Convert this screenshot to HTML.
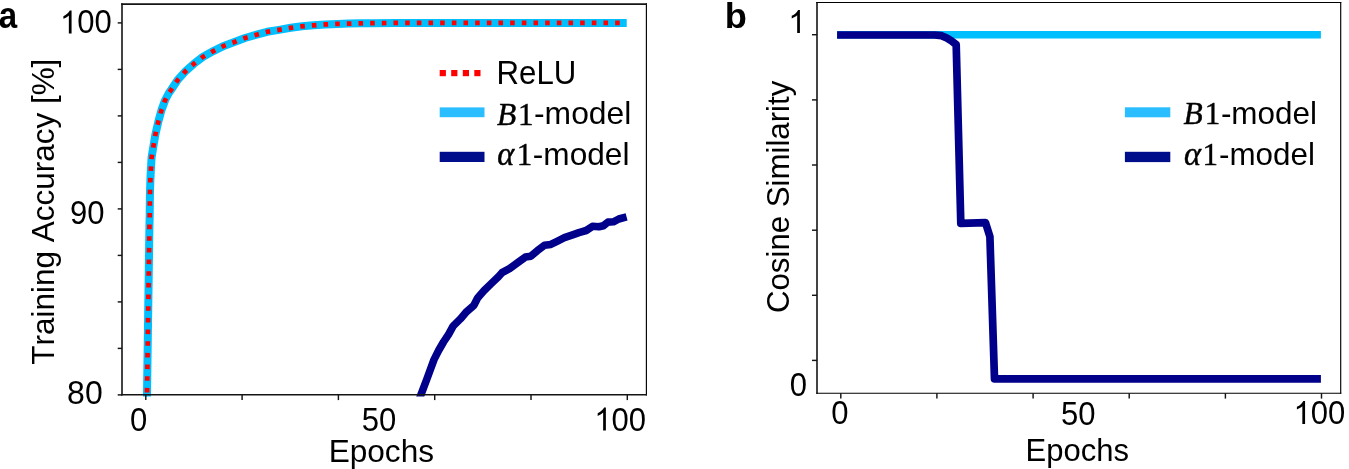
<!DOCTYPE html>
<html><head><meta charset="utf-8"><title>figure</title>
<style>
html,body{margin:0;padding:0;background:#fff;}
body{width:1349px;height:469px;overflow:hidden;font-family:"Liberation Sans", sans-serif;}
svg{display:block;will-change:transform;}
svg text{font-family:"Liberation Sans", sans-serif;fill:#000;font-kerning:none;}
</style></head><body>
<svg width="1349" height="469" viewBox="0 0 1349 469">
<rect width="1349" height="469" fill="#ffffff"/>
<clipPath id="ca"><rect x="122.0" y="4.1" width="524.4" height="392.5"/></clipPath>
<g clip-path="url(#ca)">
<polyline points="146.6,420.0 147.0,395.0 149.4,227.6 149.7,215.6 149.8,203.7 150.0,191.7 150.4,179.7 150.9,169.3 151.6,157.3 153.3,146.8 155.4,134.3 158.4,121.4 161.5,110.0 165.2,100.0 168.9,93.0 171.0,90.0 177.5,80.2 185.8,70.9 194.0,63.7 202.7,57.0 213.3,51.1 223.8,45.9 234.4,42.0 245.0,38.0 256.7,34.7 267.2,31.8 279.0,29.9 290.7,27.8 302.0,26.3 313.4,25.3 325.4,24.4 337.4,23.9 348.7,23.6 360.0,23.3 372.0,23.2 396.0,22.9 453.5,22.9 626.7,22.9" fill="none" stroke="#00BFFF" stroke-width="8.0" stroke-linejoin="round"/>
<polyline points="146.6,420.0 147.0,395.0 149.4,227.6 149.7,215.6 149.8,203.7 150.0,191.7 150.4,179.7 150.9,169.3 151.6,157.3 153.3,146.8 155.4,134.3 158.4,121.4 161.5,110.0 165.2,100.0 168.9,93.0 171.0,90.0 177.5,80.2 185.8,70.9 194.0,63.7 202.7,57.0 213.3,51.1 223.8,45.9 234.4,42.0 245.0,38.0 256.7,34.7 267.2,31.8 279.0,29.9 290.7,27.8 302.0,26.3 313.4,25.3 325.4,24.4 337.4,23.9 348.7,23.6 360.0,23.3 372.0,23.2 396.0,22.9 453.5,22.9 626.7,22.9" fill="none" stroke="#FF0000" stroke-width="4.7" stroke-dasharray="4.6 7.066" stroke-dashoffset="-4.2" stroke-linejoin="round"/>
<polyline points="417.5,404.0 420.8,395.2 426.7,379.5 434.0,359.6 438.6,350.5 443.5,342.0 448.6,334.3 453.1,326.1 460.4,318.9 466.7,311.6 473.9,305.3 477.6,298.0 483.9,290.8 491.2,283.6 498.4,276.7 502.0,272.7 509.5,268.6 519.1,261.6 525.4,257.1 530.9,256.2 537.2,250.8 544.5,245.3 550.8,244.4 557.1,241.3 564.4,237.7 572.6,234.8 578.9,232.6 586.2,230.5 592.5,226.3 598.9,226.8 603.4,225.7 607.9,222.1 613.4,221.8 618.8,219.0 626.6,216.9" fill="none" stroke="#00008B" stroke-width="7.6" stroke-linejoin="round"/>
</g>
<line x1="122.00" y1="3.30" x2="122.00" y2="395.60" stroke="#151515" stroke-width="1.60" stroke-linecap="butt"/>
<line x1="646.40" y1="3.30" x2="646.40" y2="395.60" stroke="#000" stroke-width="1.15" stroke-linecap="butt"/>
<line x1="121.20" y1="4.10" x2="646.98" y2="4.10" stroke="#151515" stroke-width="1.60" stroke-linecap="butt"/>
<line x1="121.20" y1="394.80" x2="646.98" y2="394.80" stroke="#151515" stroke-width="1.60" stroke-linecap="butt"/>
<line x1="145.8" y1="394.8" x2="145.8" y2="400.1" stroke="#151515" stroke-width="1.45"/>
<line x1="242.1" y1="394.8" x2="242.1" y2="400.1" stroke="#151515" stroke-width="1.45"/>
<line x1="338.4" y1="394.8" x2="338.4" y2="400.1" stroke="#151515" stroke-width="1.45"/>
<line x1="434.7" y1="394.8" x2="434.7" y2="400.1" stroke="#151515" stroke-width="1.45"/>
<line x1="531.0" y1="394.8" x2="531.0" y2="400.1" stroke="#151515" stroke-width="1.45"/>
<line x1="627.3" y1="394.8" x2="627.3" y2="400.1" stroke="#151515" stroke-width="1.45"/>
<line x1="117.7" y1="22.9" x2="122.0" y2="22.9" stroke="#151515" stroke-width="1.45"/>
<line x1="117.7" y1="69.4" x2="122.0" y2="69.4" stroke="#151515" stroke-width="1.45"/>
<line x1="117.7" y1="115.9" x2="122.0" y2="115.9" stroke="#151515" stroke-width="1.45"/>
<line x1="117.7" y1="162.4" x2="122.0" y2="162.4" stroke="#151515" stroke-width="1.45"/>
<line x1="117.7" y1="208.9" x2="122.0" y2="208.9" stroke="#151515" stroke-width="1.45"/>
<line x1="117.7" y1="255.4" x2="122.0" y2="255.4" stroke="#151515" stroke-width="1.45"/>
<line x1="117.7" y1="301.9" x2="122.0" y2="301.9" stroke="#151515" stroke-width="1.45"/>
<line x1="117.7" y1="348.4" x2="122.0" y2="348.4" stroke="#151515" stroke-width="1.45"/>
<line x1="117.7" y1="394.9" x2="122.0" y2="394.9" stroke="#151515" stroke-width="1.45"/>
<path transform="translate(60.01,33.40) scale(0.015156,-0.015625)" d="M763 0H583V1147Q518 1085 412.5 1023Q307 961 223 930V1104Q374 1175 487 1276Q600 1377 647 1472H763Z" fill="#000"/>
<text transform="translate(77.27,33.40) scale(0.970,1.040)" font-size="32.0" text-anchor="start">00</text>
<text transform="translate(70.07,224.30) scale(0.970,1.040)" font-size="32.0" text-anchor="start">90</text>
<text transform="translate(67.11,404.30) scale(1.000,1.040)" font-size="32.0" text-anchor="start">80</text>
<text transform="translate(130.07,430.50) scale(0.970,1.040)" font-size="32.0" text-anchor="start">0</text>
<text transform="translate(361.84,430.50) scale(0.970,1.040)" font-size="32.0" text-anchor="start">50</text>
<path transform="translate(594.31,430.50) scale(0.015156,-0.015625)" d="M763 0H583V1147Q518 1085 412.5 1023Q307 961 223 930V1104Q374 1175 487 1276Q600 1377 647 1472H763Z" fill="#000"/>
<text transform="translate(611.57,430.50) scale(0.970,1.040)" font-size="32.0" text-anchor="start">00</text>
<text transform="translate(381.30,461.90) scale(1,1.020)" font-size="31.60" text-anchor="middle" font-weight="normal" >Epochs</text>
<text transform="translate(53.9,364.8) rotate(-90) scale(1,1.02)" font-size="31.5" text-anchor="start">Training Accuracy [%]</text>
<text transform="translate(-1.30,27.80) scale(0.92,1.01)" font-size="36" font-weight="bold" text-anchor="start">a</text>
<rect x="439.7" y="70.0" width="6.2" height="6.2" fill="#FF0000"/>
<rect x="451.2" y="70.0" width="6.2" height="6.2" fill="#FF0000"/>
<rect x="462.8" y="70.0" width="6.2" height="6.2" fill="#FF0000"/>
<rect x="474.3" y="70.0" width="6.2" height="6.2" fill="#FF0000"/>
<rect x="439.7" y="107.4" width="44.8" height="9.8" fill="#2ABDFF"/>
<rect x="439.7" y="151.8" width="44.8" height="10.2" fill="#000E8C"/>
<text transform="translate(496.60,84.20) scale(1,1.060)" font-size="31.20" text-anchor="start" font-weight="normal" >ReLU</text>
<text transform="translate(497.00,124.50) scale(1,1.015)" style="font-family:&quot;Liberation Serif&quot;, serif;font-style:italic" stroke="#000" stroke-width="0.45" font-size="31.50" text-anchor="start">B</text>
<text transform="translate(518.00,124.50) scale(1,1.015)" style="font-family:&quot;Liberation Serif&quot;, serif" stroke="#000" stroke-width="0.4" font-size="31" text-anchor="start">1</text>
<text transform="translate(534.00,124.40) scale(1,0.983)" font-size="31.85" text-anchor="start">-model</text>
<text transform="translate(497.20,165.30) scale(1,1.015)" style="font-family:&quot;Liberation Serif&quot;, serif;font-style:italic" stroke="#000" stroke-width="0.45" font-size="32.50" text-anchor="start">&#945;</text>
<text transform="translate(516.70,165.30) scale(1,1.015)" style="font-family:&quot;Liberation Serif&quot;, serif" stroke="#000" stroke-width="0.4" font-size="31" text-anchor="start">1</text>
<text transform="translate(532.85,165.30) scale(1,0.983)" font-size="31.60" text-anchor="start">-model</text>
<line x1="817.00" y1="1.93" x2="817.00" y2="393.85" stroke="#151515" stroke-width="1.60" stroke-linecap="butt"/>
<line x1="1340.70" y1="1.93" x2="1340.70" y2="393.85" stroke="#000" stroke-width="1.15" stroke-linecap="butt"/>
<line x1="816.20" y1="2.50" x2="1341.28" y2="2.50" stroke="#000" stroke-width="1.15" stroke-linecap="butt"/>
<line x1="816.20" y1="393.25" x2="1341.28" y2="393.25" stroke="#000" stroke-width="1.20" stroke-linecap="butt"/>
<line x1="840.8" y1="393.2" x2="840.8" y2="398.6" stroke="#151515" stroke-width="1.45"/>
<line x1="936.9" y1="393.2" x2="936.9" y2="398.6" stroke="#151515" stroke-width="1.45"/>
<line x1="1033.1" y1="393.2" x2="1033.1" y2="398.6" stroke="#151515" stroke-width="1.45"/>
<line x1="1129.2" y1="393.2" x2="1129.2" y2="398.6" stroke="#151515" stroke-width="1.45"/>
<line x1="1225.4" y1="393.2" x2="1225.4" y2="398.6" stroke="#151515" stroke-width="1.45"/>
<line x1="1321.5" y1="393.2" x2="1321.5" y2="398.6" stroke="#151515" stroke-width="1.45"/>
<line x1="812.0" y1="34.7" x2="817.0" y2="34.7" stroke="#151515" stroke-width="1.45"/>
<line x1="812.0" y1="99.9" x2="817.0" y2="99.9" stroke="#151515" stroke-width="1.45"/>
<line x1="812.0" y1="165.0" x2="817.0" y2="165.0" stroke="#151515" stroke-width="1.45"/>
<line x1="812.0" y1="230.2" x2="817.0" y2="230.2" stroke="#151515" stroke-width="1.45"/>
<line x1="812.0" y1="295.3" x2="817.0" y2="295.3" stroke="#151515" stroke-width="1.45"/>
<line x1="812.0" y1="360.4" x2="817.0" y2="360.4" stroke="#151515" stroke-width="1.45"/>
<polyline points="837.1,34.8 1320.9,34.8" fill="none" stroke="#00BFFF" stroke-width="7.4"/>
<polyline points="837.1,35.0 934.6,35.0 941.5,35.7 946.8,38.0 951.6,41.0 956.2,44.6 960.8,223.4 985.5,222.6 989.9,236.6 994.5,378.9 1320.9,378.9" fill="none" stroke="#00008B" stroke-width="7.7" stroke-linejoin="round"/>
<path transform="translate(788.34,33.10) scale(0.015156,-0.015625)" d="M763 0H583V1147Q518 1085 412.5 1023Q307 961 223 930V1104Q374 1175 487 1276Q600 1377 647 1472H763Z" fill="#000"/>
<text transform="translate(789.64,395.80) scale(0.970,1.040)" font-size="32.0" text-anchor="start">0</text>
<text transform="translate(831.27,424.20) scale(0.970,1.040)" font-size="32.0" text-anchor="start">0</text>
<text transform="translate(1060.94,425.00) scale(0.970,1.040)" font-size="32.0" text-anchor="start">50</text>
<path transform="translate(1293.51,424.10) scale(0.015156,-0.015625)" d="M763 0H583V1147Q518 1085 412.5 1023Q307 961 223 930V1104Q374 1175 487 1276Q600 1377 647 1472H763Z" fill="#000"/>
<text transform="translate(1310.77,424.10) scale(0.970,1.040)" font-size="32.0" text-anchor="start">00</text>
<text transform="translate(1077.20,460.60) scale(1,1.020)" font-size="31.00" text-anchor="middle" font-weight="normal" >Epochs</text>
<text transform="translate(788.9,313.0) rotate(-90) scale(1,1.02)" font-size="31.2" text-anchor="start">Cosine Similarity</text>
<text transform="translate(724.80,27.70) scale(1,0.975)" font-size="36.20" text-anchor="start" font-weight="bold" >b</text>
<rect x="1124.9" y="107.3" width="45.4" height="10.0" fill="#2ABDFF"/>
<rect x="1124.9" y="151.8" width="45.4" height="10.3" fill="#000E8C"/>
<text transform="translate(1183.40,124.30) scale(1,1.015)" style="font-family:&quot;Liberation Serif&quot;, serif;font-style:italic" stroke="#000" stroke-width="0.45" font-size="31.50" text-anchor="start">B</text>
<text transform="translate(1204.80,124.20) scale(1,1.015)" style="font-family:&quot;Liberation Serif&quot;, serif" stroke="#000" stroke-width="0.4" font-size="31" text-anchor="start">1</text>
<text transform="translate(1220.90,124.05) scale(1,0.983)" font-size="31.45" text-anchor="start">-model</text>
<text transform="translate(1184.00,165.40) scale(1,1.015)" style="font-family:&quot;Liberation Serif&quot;, serif;font-style:italic" stroke="#000" stroke-width="0.45" font-size="32.50" text-anchor="start">&#945;</text>
<text transform="translate(1202.40,165.30) scale(1,1.015)" style="font-family:&quot;Liberation Serif&quot;, serif" stroke="#000" stroke-width="0.4" font-size="31" text-anchor="start">1</text>
<text transform="translate(1219.00,165.30) scale(1,0.983)" font-size="31.40" text-anchor="start">-model</text>
</svg>
</body></html>
